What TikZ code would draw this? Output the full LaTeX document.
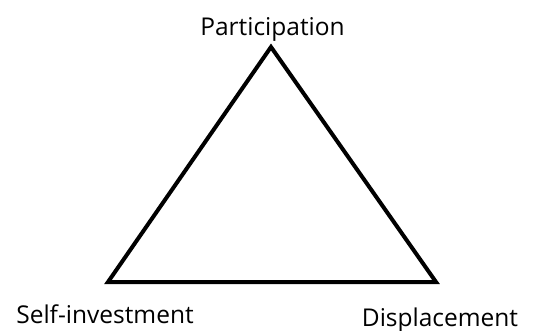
\documentclass[tikz,border=0pt]{standalone}
\usepackage{fontspec}
\setmainfont{Open Sans}
\usetikzlibrary{positioning}
\tikzstyle{lbl}=[inner sep=0pt, anchor=base, font=\fontsize{24.5}{28}\selectfont]

\begin{document}
\begin{tikzpicture}[x=1pt, y=-1pt, line width=4pt, line join=miter]
\useasboundingbox (0,0) rectangle (534,331);
\coordinate (P) at (271,47);
\coordinate (S) at (108,282);
\coordinate (D) at (436,282);
\draw (P) -- (S) -- (D) -- cycle;
\node[lbl] (Ptext) at (272.5,36) {Participation};
\node[lbl] (Stext) at (105,323) {Self-investment};
\node[lbl] (Dtext) at (440,326) {Displacement};
\end{tikzpicture}
\end{document}
